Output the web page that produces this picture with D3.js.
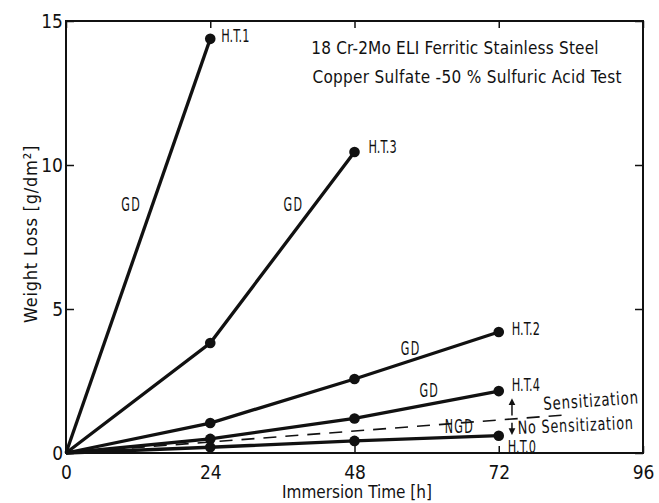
<!DOCTYPE html>
<html>
<head>
  <meta charset="utf-8">
  <title>weight-loss</title>
  <style>
    body { margin: 0; background: #fff; }
    text { font-family: "DejaVu Sans Condensed", "DejaVu Sans", sans-serif; fill: #111; }
    .axis path, .axis line { stroke: #111; }
  </style>
  <script src="https://cdn.jsdelivr.net/npm/d3@7/dist/d3.min.js"></script>
</head>
<body>
<script type="text/javascript">

  // data
  var hours = [0, 24, 48, 72];
  var xTicks = [0, 24, 48, 72, 96];
  var yTicks = [0, 5, 10, 15];
  var seriesNames = ["H.T.1", "H.T.3", "H.T.2", "H.T.4", "H.T.0"];
  var ht1 = [0, 14.38];
  var ht3 = [0, 3.82, 10.45];
  var ht2 = [0, 1.04, 2.57, 4.2];
  var ht4 = [0, 0.49, 1.2, 2.15];
  var ht0 = [0, 0.2, 0.42, 0.6];
  var boundaryX = [0, 83];
  var boundaryY = [0, 1.32];

  var series = [ht1, ht3, ht2, ht4, ht0].map(function(v, i) {
    return { name: seriesNames[i], pts: v.map(function(y, j) { return [hours[j], y]; }) };
  });

  var margin = {top: 21, right: 16, bottom: 50, left: 66};
  var W = 659, H = 503;
  var width = W - margin.left - margin.right;
  var height = H - margin.top - margin.bottom;

  var svg = d3.select("body").append("svg")
    .attr("width", W)
    .attr("height", H);

  var g = svg.append("g")
    .attr("transform", "translate(" + margin.left + "," + margin.top + ")");

  var x = d3.scaleLinear().domain([0, 96]).range([0, width]);
  var y = d3.scaleLinear().domain([0, 15]).range([height, 0]);

  // condensed text helper: position, rotation, horizontal squeeze
  function label(parent, px, py, txt, o) {
    o = o || {};
    return parent.append("text")
      .attr("transform", "translate(" + px + "," + py + ") rotate(" + (o.rot || 0) + ") scale(" + (o.sx || 1) + ",1)")
      .attr("font-size", o.size || 17)
      .attr("letter-spacing", o.ls || 0)
      .attr("text-anchor", o.anchor || "start")
      .text(txt);
  }

  // frame
  g.append("rect")
    .attr("width", width).attr("height", height)
    .attr("fill", "none").attr("stroke", "#111").attr("stroke-width", 2);

  // axes with inward ticks
  g.append("g").attr("class", "axis")
    .attr("transform", "translate(0," + height + ")")
    .call(d3.axisBottom(x).tickValues(xTicks).tickSize(-7).tickPadding(13).tickFormat(d3.format("d")))
    .call(function(s) { s.select(".domain").remove(); s.selectAll("text").attr("font-size", 19).attr("font-family", null); });

  g.append("g").attr("class", "axis")
    .call(d3.axisLeft(y).tickValues(yTicks).tickSize(-8).tickPadding(3).tickFormat(d3.format("d")))
    .call(function(s) { s.select(".domain").remove(); s.selectAll("text").attr("font-size", 19).attr("font-family", null); });

  g.append("g").attr("class", "axis")
    .call(d3.axisTop(x).tickValues(xTicks).tickSize(-7).tickFormat(""))
    .call(function(s) { s.select(".domain").remove(); });

  g.append("g").attr("class", "axis")
    .attr("transform", "translate(" + width + ",0)")
    .call(d3.axisRight(y).tickValues(yTicks).tickSize(-8).tickFormat(""))
    .call(function(s) { s.select(".domain").remove(); });

  g.selectAll(".axis line").attr("stroke-width", 1.5);

  var line = d3.line().x(function(d) { return x(d[0]); }).y(function(d) { return y(d[1]); });

  // dashed sensitization boundary
  g.append("path")
    .datum(boundaryX.map(function(v, i) { return [v, boundaryY[i]]; }))
    .attr("d", line)
    .attr("fill", "none").attr("stroke", "#111").attr("stroke-width", 1.6)
    .attr("stroke-dasharray", "13,9");

  // series
  g.selectAll(".series")
    .data(series)
    .enter().append("path")
      .attr("class", "series")
      .attr("d", function(d) { return line(d.pts); })
      .attr("fill", "none").attr("stroke", "#111").attr("stroke-width", 3.3);

  g.selectAll(".dot")
    .data(series.reduce(function(a, s) { return a.concat(s.pts.slice(1)); }, []))
    .enter().append("circle")
      .attr("class", "dot")
      .attr("cx", function(d) { return x(d[0]); })
      .attr("cy", function(d) { return y(d[1]); })
      .attr("r", 5.3)
      .attr("fill", "#111");

  // end labels (offset from last point, px)
  var labelOffset = {"H.T.1": [11, 3], "H.T.3": [14, 1], "H.T.2": [13, 3], "H.T.4": [13, 0], "H.T.0": [9, 17]};
  series.forEach(function(s) {
    var p = s.pts[s.pts.length - 1];
    label(g, x(p[0]) + labelOffset[s.name][0], y(p[1]) + labelOffset[s.name][1], s.name, {size: 18, sx: 0.7});
  });

  // GD / NGD labels
  var notes = [
    {t: "GD", hx: 9.2, wy: 8.4},
    {t: "GD", hx: 36.2, wy: 8.4},
    {t: "GD", hx: 55.7, wy: 3.4},
    {t: "GD", hx: 58.8, wy: 1.94},
    {t: "NGD", hx: 63, wy: 0.69}
  ];
  notes.forEach(function(n) {
    label(g, x(n.hx), y(n.wy), n.t, {size: 19, sx: 0.65, ls: 2});
  });

  // sensitization annotation
  label(g, x(79.5), y(1.49), "Sensitization", {size: 18, sx: 0.82, ls: 1, rot: -4});
  label(g, x(75.2), y(0.66), "No Sensitization", {size: 18, sx: 0.79, ls: 1, rot: -2.6});

  var ax = x(74.2);
  svg.append("defs").append("marker")
    .attr("id", "arr").attr("viewBox", "0 0 10 10").attr("refX", 5).attr("refY", 5)
    .attr("markerWidth", 4.5).attr("markerHeight", 5).attr("orient", "auto")
    .append("path").attr("d", "M0,0L10,5L0,10Z").attr("fill", "#111");
  g.append("line").attr("x1", ax).attr("x2", ax).attr("y1", y(1.3)).attr("y2", y(1.78))
    .attr("stroke", "#111").attr("stroke-width", 1.5).attr("marker-end", "url(#arr)");
  g.append("line").attr("x1", ax).attr("x2", ax).attr("y1", y(1.05)).attr("y2", y(0.74))
    .attr("stroke", "#111").attr("stroke-width", 1.5).attr("marker-end", "url(#arr)");

  // title
  label(g, x(40.8), y(13.85), "18 Cr-2Mo ELI Ferritic Stainless Steel", {size: 17, ls: 0.2});
  label(g, x(41.0), y(12.85), "Copper Sulfate -50 % Sulfuric Acid Test", {size: 17, ls: 0.3});

  // axis titles
  label(svg, 357, 498, "Immersion Time [h]", {size: 17, ls: 0, anchor: "middle"});
  label(svg, 37, 234, "Weight Loss [g/dm²]", {size: 18, ls: 0.8, anchor: "middle", rot: -90});

</script>
</body>
</html>
